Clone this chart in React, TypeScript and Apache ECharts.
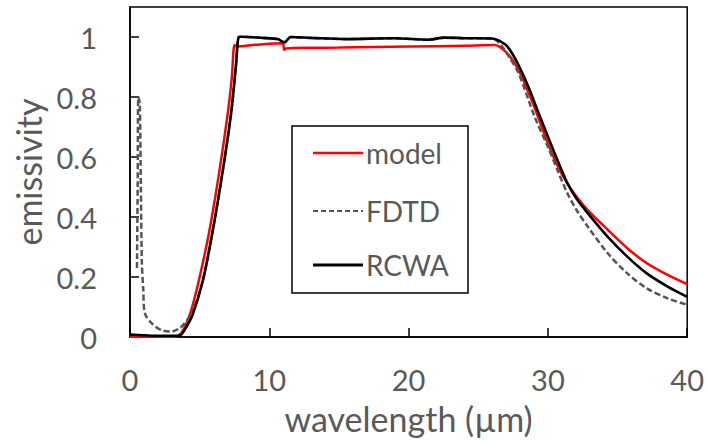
import React, { useEffect, useRef } from "react";
import * as echarts from "echarts";

// wavelength (µm) / emissivity
const modelX = [0, 1, 2, 3, 3.5, 3.9, 4.4, 5.0, 5.71, 6.43, 7.02, 7.3, 7.5, 7.62, 9, 10.95, 11.07, 11.2, 13, 15, 20, 24, 26.2, 26.6, 27.2, 27.9, 29.0, 29.9, 30.6, 31.4, 32.1, 32.86, 34.3, 35.7, 37.1, 38.6, 40];
const modelY = [0, 0, 0, 0, 0.005, 0.03, 0.09, 0.2, 0.357, 0.557, 0.746, 0.86, 0.973, 0.968, 0.974, 0.979, 0.957, 0.962, 0.964, 0.965, 0.968, 0.971, 0.973, 0.965, 0.94, 0.89, 0.77, 0.657, 0.58, 0.511, 0.465, 0.423, 0.357, 0.296, 0.246, 0.207, 0.176];

const fdtdX = [0.5, 0.55, 0.6, 0.7, 0.78, 0.85, 0.95, 1.07, 1.55, 2.26, 2.98, 3.57, 4.0, 4.5, 5.24, 5.95, 6.67, 7.26, 7.62, 7.8, 8.0, 9.5, 10.6, 11.07, 11.55, 13, 15.5, 19, 21.4, 22.6, 24, 26, 26.6, 27.2, 27.9, 29.05, 30, 30.7, 31.4, 32.1, 32.86, 34.3, 35.7, 37.1, 38.6, 40];
const fdtdY = [0.23, 0.5, 0.8, 0.78, 0.5, 0.25, 0.16, 0.079, 0.046, 0.023, 0.018, 0.03, 0.05, 0.085, 0.19, 0.357, 0.557, 0.746, 0.912, 1.0, 1.001, 0.997, 0.993, 0.982, 1.0, 0.997, 0.993, 0.996, 0.991, 0.998, 0.996, 0.995, 0.975, 0.935, 0.879, 0.734, 0.634, 0.555, 0.479, 0.42, 0.368, 0.279, 0.212, 0.162, 0.129, 0.107];

const rcwaX = [0, 1, 2, 3, 3.57, 4.0, 4.5, 5.24, 5.95, 6.67, 7.26, 7.62, 7.8, 8.0, 9.5, 10.6, 11.07, 11.55, 13, 15.5, 19, 21.4, 22.6, 24, 26, 26.5, 27.1, 27.8, 28.6, 29.3, 30, 30.7, 31.4, 32.1, 32.86, 34.3, 35.7, 37.1, 38.6, 40];
const rcwaY = [0.008, 0.006, 0.004, 0.004, 0.005, 0.03, 0.075, 0.19, 0.357, 0.557, 0.746, 0.912, 1.0, 1.001, 0.997, 0.993, 0.982, 1.0, 0.997, 0.993, 0.996, 0.991, 0.998, 0.996, 0.995, 0.988, 0.968, 0.915, 0.834, 0.75, 0.668, 0.588, 0.513, 0.458, 0.413, 0.334, 0.268, 0.212, 0.168, 0.134];

const seriesNames = ["model", "FDTD", "RCWA"];
const xTicks = { min: 0, max: 40, interval: 10 };
const yTicks = { min: 0, max: 1.1, interval: 0.2 };

const zip = (xs: number[], ys: number[]) => xs.map((x, i) => [x, ys[i]]);

const FONT = "Lato";
const GREY = "#595959";

export default function App() {
  const ref = useRef<HTMLDivElement>(null);
  useEffect(() => {
    const chart = echarts.init(ref.current!, null, { renderer: "svg" });
    const legendItems = [
      { name: seriesNames[0], color: "#ff0000", dash: null as any, width: 2.5, y: 153 },
      { name: seriesNames[1], color: "#555555", dash: [5, 3] as any, width: 1.8, y: 211 },
      { name: seriesNames[2], color: "#000000", dash: null as any, width: 3, y: 265 },
    ];
    chart.setOption({
      animation: false,
      grid: { left: 130, right: 16, top: 7, bottom: 108, show: true, borderColor: "#000", borderWidth: 1.5, backgroundColor: "transparent" },
      xAxis: {
        type: "value",
        min: xTicks.min,
        max: xTicks.max,
        interval: xTicks.interval,
        name: "wavelength (µm)",
        nameLocation: "middle",
        nameGap: 64,
        nameTextStyle: { fontFamily: FONT, fontSize: 34, color: GREY },
        axisLine: { show: true, lineStyle: { color: "#000", width: 1.5 } },
        axisTick: { show: true, inside: true, length: 9, lineStyle: { color: "#000", width: 1.5 } },
        axisLabel: { fontFamily: FONT, fontSize: 29, color: GREY, margin: 28 },
        splitLine: { show: false },
      },
      yAxis: {
        type: "value",
        min: yTicks.min,
        max: yTicks.max,
        interval: yTicks.interval,
        name: "emissivity",
        nameLocation: "middle",
        nameGap: 84,
        nameTextStyle: { fontFamily: FONT, fontSize: 34, color: GREY },
        axisLine: { show: true, lineStyle: { color: "#000", width: 1.5 } },
        axisTick: { show: true, inside: true, length: 9, lineStyle: { color: "#000", width: 1.5 } },
        axisLabel: { fontFamily: FONT, fontSize: 29, color: GREY, margin: 33, showMaxLabel: false },
        splitLine: { show: false },
      },
      series: [
        {
          name: seriesNames[0], type: "line", data: zip(modelX, modelY), showSymbol: false, symbol: "none",
          lineStyle: { color: "#ff0000", width: 2.5 }, smooth: 0.3, z: 2,
        },
        {
          name: seriesNames[1], type: "line", data: zip(fdtdX, fdtdY), showSymbol: false, symbol: "none",
          lineStyle: { color: "#555555", width: 2.5, type: [6, 3] }, smooth: 0.3, z: 3,
        },
        {
          name: seriesNames[2], type: "line", data: zip(rcwaX, rcwaY), showSymbol: false, symbol: "none",
          lineStyle: { color: "#000", width: 2.6 }, smooth: 0.3, z: 4,
        },
      ],
      graphic: [
        {
          type: "rect", shape: { x: 292, y: 126, width: 176, height: 167 },
          style: { fill: "#fff", stroke: "#000", lineWidth: 1.5 }, z: 10,
        },
        ...legendItems.flatMap((it) => [
          {
            type: "line", shape: { x1: 313, y1: it.y, x2: 363, y2: it.y },
            style: { stroke: it.color, lineWidth: it.width, lineDash: it.dash }, z: 11,
          },
          {
            type: "text", x: 366, y: it.y,
            style: { text: it.name, fontFamily: FONT, fontSize: 28, fill: GREY, verticalAlign: "middle", align: "left" }, z: 11,
          },
        ]),
      ],
    });
    return () => chart.dispose();
  }, []);
  return <div ref={ref} style={{ position: "absolute", left: 0, top: 0, width: 707, height: 445 }} />;
}
